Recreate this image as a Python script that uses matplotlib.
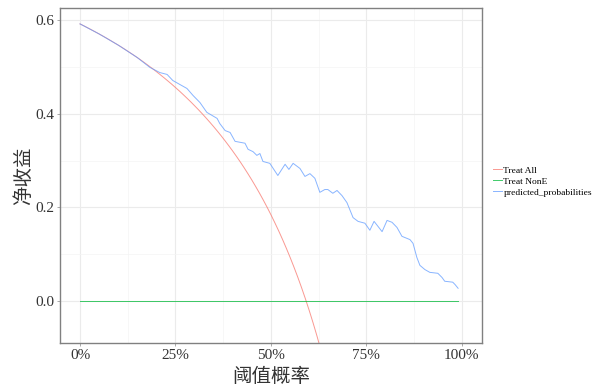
import matplotlib
matplotlib.use("Agg")
import matplotlib.pyplot as plt
from matplotlib.ticker import FixedLocator, FuncFormatter

plt.rcParams['font.family'] = ['Liberation Serif', 'Noto Sans CJK SC']

# Treat All curve (threshold, net benefit)
ta_thresh = [i / 100 for i in range(0, 65)]
ta_nb = [0.5920, 0.5879, 0.5837, 0.5794, 0.5750, 0.5705, 0.5660, 0.5613, 0.5565, 0.5516,
         0.5467, 0.5416, 0.5364, 0.5310, 0.5256, 0.5200, 0.5143, 0.5084, 0.5024, 0.4963,
         0.4900, 0.4835, 0.4769, 0.4701, 0.4632, 0.4560, 0.4487, 0.4411, 0.4333, 0.4254,
         0.4171, 0.4087, 0.4000, 0.3910, 0.3818, 0.3723, 0.3625, 0.3524, 0.3419, 0.3311,
         0.3200, 0.3085, 0.2966, 0.2842, 0.2714, 0.2582, 0.2444, 0.2302, 0.2154, 0.2000,
         0.1840, 0.1673, 0.1500, 0.1319, 0.1130, 0.0933, 0.0727, 0.0512, 0.0286, 0.0049,
         -0.0200, -0.0462, -0.0737, -0.1027, -0.1333]

# Treat None
tn_thresh = [0.0, 0.99]
tn_nb = [0.0, 0.0]

# Model (predicted_probabilities)
pp_thresh = [0.00, 0.05, 0.10, 0.15, 0.183, 0.209, 0.228, 0.243, 0.280, 0.296, 0.314, 0.332,
             0.359, 0.366, 0.380, 0.393, 0.406, 0.419, 0.432, 0.440, 0.453, 0.463, 0.471,
             0.479, 0.497, 0.518, 0.537, 0.547, 0.558, 0.576, 0.589, 0.602, 0.615, 0.628,
             0.641, 0.649, 0.662, 0.673, 0.686, 0.699, 0.715, 0.728, 0.746, 0.759, 0.770,
             0.791, 0.804, 0.817, 0.830, 0.843, 0.864, 0.872, 0.882, 0.890, 0.903, 0.916,
             0.937, 0.948, 0.955, 0.976, 0.982, 0.990]
pp_nb = [0.592, 0.5705, 0.5467, 0.520, 0.499, 0.488, 0.484, 0.471, 0.454, 0.439, 0.424, 0.403,
         0.390, 0.379, 0.364, 0.360, 0.341, 0.339, 0.337, 0.324, 0.319, 0.311, 0.315,
         0.298, 0.294, 0.268, 0.292, 0.281, 0.294, 0.283, 0.266, 0.272, 0.262, 0.232,
         0.238, 0.238, 0.230, 0.236, 0.225, 0.210, 0.178, 0.170, 0.166, 0.151, 0.170,
         0.148, 0.172, 0.168, 0.157, 0.138, 0.131, 0.123, 0.093, 0.076, 0.067, 0.061,
         0.059, 0.050, 0.042, 0.040, 0.035, 0.027]

x_ticks = [0, 0.25, 0.5, 0.75, 1.0]
x_minor = [0.125, 0.375, 0.625, 0.875]
y_ticks = [0.0, 0.2, 0.4, 0.6]
y_minor = [-0.1, 0.1, 0.3, 0.5]

fig = plt.figure(figsize=(5.95, 3.9), dpi=100)
ax = fig.add_axes([0.1008, 0.1205, 0.7092, 0.859])

ax.set_xlim(-0.0525, 1.0525)
ax.set_ylim(-0.09, 0.626)

ax.xaxis.set_major_locator(FixedLocator(x_ticks))
ax.xaxis.set_minor_locator(FixedLocator(x_minor))
ax.yaxis.set_major_locator(FixedLocator(y_ticks))
ax.yaxis.set_minor_locator(FixedLocator(y_minor))
ax.xaxis.set_major_formatter(FuncFormatter(lambda v, p: f"{int(round(v*100))}%"))
ax.yaxis.set_major_formatter(FuncFormatter(lambda v, p: f"{v:.1f}"))

ax.grid(True, which='major', color='#ebebeb', linewidth=0.8)
ax.grid(True, which='minor', color='#f4f4f4', linewidth=0.5)
ax.set_axisbelow(True)

for s in ax.spines.values():
    s.set_color('#808080')
    s.set_linewidth(1.0)

ax.tick_params(axis='both', which='major', length=2.0, width=0.5, color='#888888',
               labelsize=11, labelcolor='#333333', pad=2)
ax.tick_params(axis='both', which='minor', length=0)

l1, = ax.plot(ta_thresh, ta_nb, color='#F8766D', linewidth=0.7, alpha=0.75, label='Treat All')
l2, = ax.plot(tn_thresh, tn_nb, color='#00BA38', linewidth=0.7, alpha=0.75, label='Treat NonE')
l3, = ax.plot(pp_thresh, pp_nb, color='#619CFF', linewidth=0.7, alpha=0.75,
              label='predicted_probabilities')

ax.set_xlabel('阈值概率', fontsize=14, color='#333333', labelpad=4)
ax.set_ylabel('净收益', fontsize=14, color='#333333', labelpad=2)

fig.legend(handles=[l1, l2, l3], loc='center left', bbox_to_anchor=(0.823, 0.535),
           frameon=False, fontsize=6.8, handlelength=0.9, handletextpad=0.15,
           labelspacing=0.25, borderaxespad=0)

fig.savefig('out.png', dpi=100)
